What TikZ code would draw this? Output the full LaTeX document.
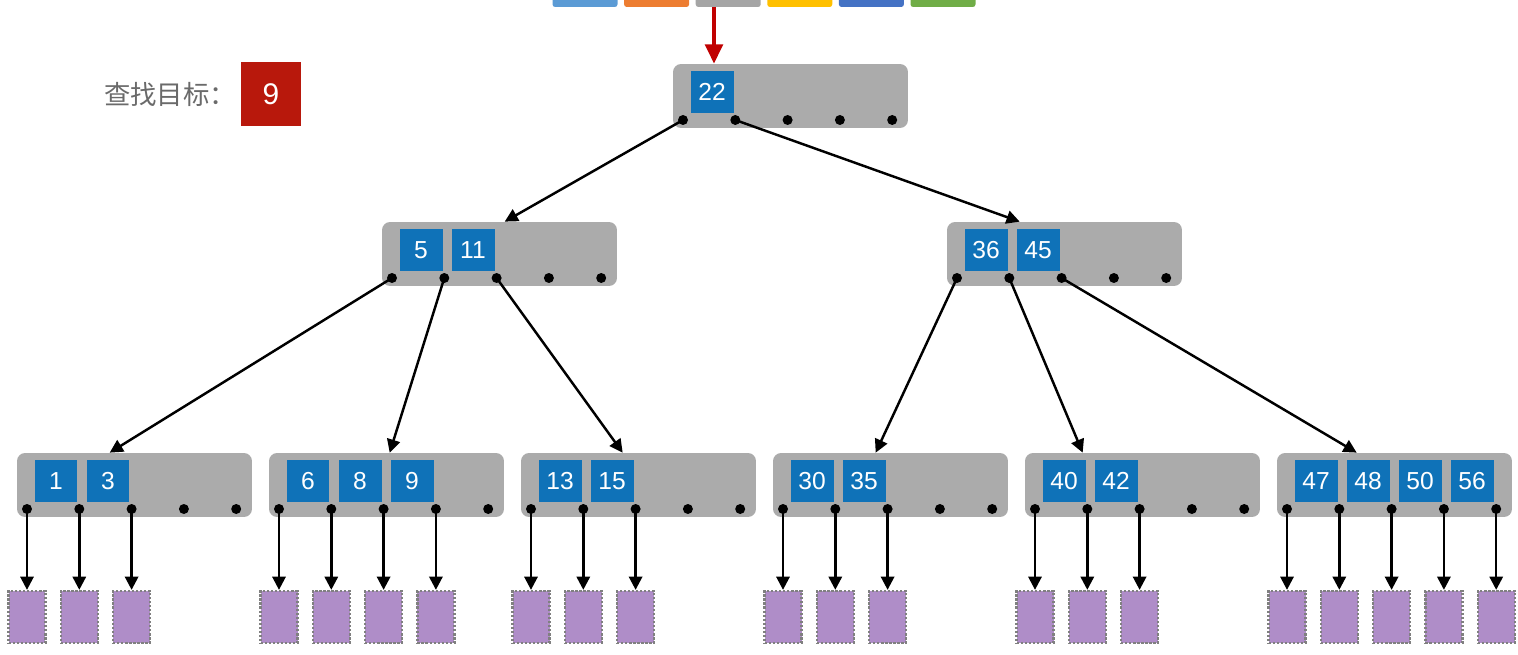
\documentclass[tikz,border=0pt]{standalone}
\usepackage{fontspec}
\setmainfont{Liberation Sans}
\newfontfamily\cjkfont{Noto Sans CJK SC}
\usetikzlibrary{arrows.meta,calc}

\definecolor{nodegray}{HTML}{ABABAB}
\definecolor{keyblue}{HTML}{0F72B8}
\definecolor{leafpurple}{HTML}{AF8DC8}
\definecolor{targetred}{HTML}{B8180C}
\definecolor{arrowred}{HTML}{C00000}
\definecolor{textgray}{HTML}{6A6A6A}
\definecolor{barA}{HTML}{5B9BD5}
\definecolor{barB}{HTML}{ED7D31}
\definecolor{barC}{HTML}{A5A5A5}
\definecolor{barD}{HTML}{FFC000}
\definecolor{barE}{HTML}{4472C4}
\definecolor{barF}{HTML}{70AD47}

\begin{document}
\begin{tikzpicture}[x=0.02cm, y=-0.02cm,
  nodebox/.style={fill=nodegray, rounded corners=0.16cm, minimum width=4.7cm, minimum height=1.28cm, inner sep=0pt},
  keybox/.style={fill=keyblue, text=white, minimum width=0.86cm, minimum height=0.84cm, inner sep=0pt, font=\fontsize{14}{16}\selectfont},
  ptrdot/.style={circle, fill=black, minimum size=0.2cm, inner sep=0pt},
  leafbox/.style={fill=leafpurple, draw=gray, densely dotted, line width=1.3pt, minimum width=0.74cm, minimum height=1.04cm, inner sep=0pt},
  barbox/.style={rounded corners=1.5pt, minimum width=1.3cm, minimum height=0.38cm, inner sep=0pt},
  ptr/.style={-{Triangle[length=7.5pt, width=7.5pt]}, line width=1.4pt},
  redptr/.style={-{Triangle[length=11pt, width=10pt]}, line width=2.2pt, arrowred}]
  \useasboundingbox (0,0) rectangle (1518,655);
  % colour bar at the top, cut by the page edge
  \foreach \c [count=\i from 0] in {barA, barB, barC, barD, barE, barF}
    \node[barbox, fill=\c] (bar\i) at (585+71.6*\i, -2.5) {};
  % search target
  \node[anchor=west, text=textgray, font=\cjkfont\fontsize{15}{18}\selectfont] (goal) at (98,94) {查找目标：};
  \node[fill=targetred, text=white, minimum width=1.2cm, minimum height=1.28cm, inner sep=0pt,
        font=\fontsize{17}{19}\selectfont] (target) at (271,94) {9};
  % tree nodes: name / left / top / keys
  \foreach \n/\L/\T/\ks in {root/673/64/{22}, m1/382/222/{5,11}, m2/947/222/{36,45},
      l1/17/453/{1,3}, l2/269/453/{6,8,9}, l3/521/453/{13,15},
      l4/773/453/{30,35}, l5/1025/453/{40,42}, l6/1277/453/{47,48,50,56}} {
    \node[nodebox] (\n) at (\L+117.5, \T+32) {};
    \foreach \k [count=\i] in \ks {
      \node[keybox] (\n-k\i) at (\L+39+52*\i-52, \T+28) {\k};
    }
    \foreach \i in {0,...,4} {
      \node[ptrdot] (\n-d\i) at (\L+10+52.3*\i, \T+56) {};
    }
  }
  % red arrow into the root
  \coordinate (redin) at (714,0);
  \draw[redptr] (bar2.south -| redin) -- (root.north -| redin);
  % inner pointers: parent dot / child / offset on child top
  \foreach \a/\b/\dx in {root-d0/m1/123, root-d1/m2/73,
      m1-d0/l1/93, m1-d1/l2/121, m1-d2/l3/102,
      m2-d0/l4/103, m2-d1/l5/58, m2-d2/l6/80}
    \draw[ptr] (\a.center) -- ($(\b.north west)+(\dx,0)$);
  % leaf pages
  \coordinate (leafrow) at (0,617);
  \foreach \n/\c in {l1/2, l2/3, l3/2, l4/2, l5/2, l6/4}
    \foreach \i in {0,...,\c} {
      \node[leafbox] (\n-p\i) at (\n-d\i |- leafrow) {};
      \draw[ptr] (\n-d\i.center) -- (\n-p\i);
    }
\end{tikzpicture}
\end{document}
